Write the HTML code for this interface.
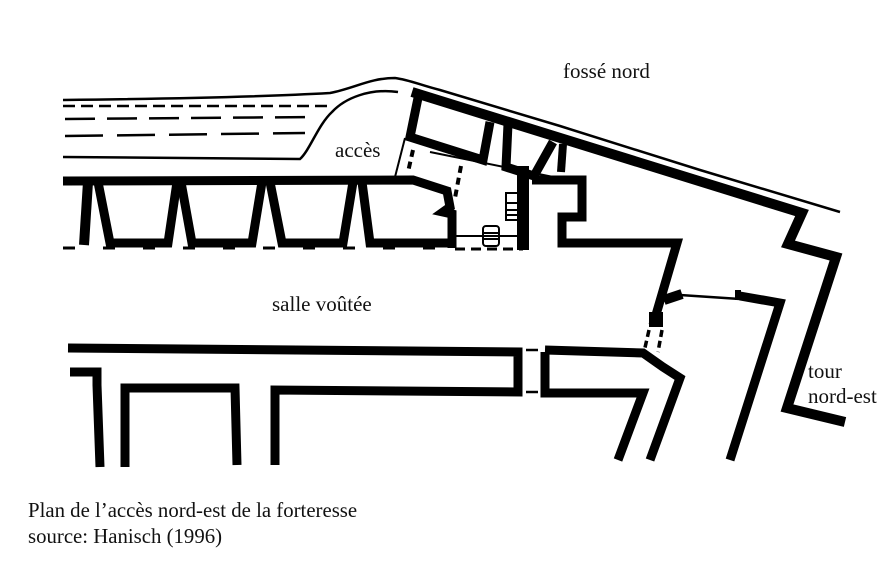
<!DOCTYPE html>
<html><head><meta charset="utf-8"><style>
body{margin:0;background:#fff}
svg{display:block}
text{font-family:"Liberation Serif",serif;fill:#111}
</style></head><body>
<svg width="886" height="580" viewBox="0 0 886 580" xmlns="http://www.w3.org/2000/svg">
<g fill="none" stroke="#000" stroke-linejoin="miter" stroke-linecap="butt">
<path d="M63,100 C150,99 260,97 330,93 C355,88 370,78 395,78 C410,80 420,85 440,90 L560,126 L700,170 L840,212" stroke-width="2.5"/>
<path d="M63,157 L300,159 C310,150 318,125 332,112 C345,98 370,88 398,92" stroke-width="2.5"/>
<path d="M63,106 L330,106" stroke-width="2.5" stroke-dasharray="12,6"/>
<path d="M65,119 L315,117" stroke-width="2.5" stroke-dasharray="30,12"/>
<path d="M65,136 L305,133" stroke-width="2.5" stroke-dasharray="38,14"/>
<path d="M412,92 L802,213 L788,244 L836,257 L787,408 L845,422" stroke-width="10"/>
<path d="M418,98 L410,137 L483,160 L490,122" stroke-width="9"/>
<path d="M508,124 L506,167 L534,176 L553,142" stroke-width="9"/>
<path d="M563,144 L561,172" stroke-width="8"/>
<path d="M405,138 L395,177" stroke-width="2"/>
<path d="M430,152 L573,181" stroke-width="2"/>
<path d="M413,150 L408,172 M461,166 L455,198" stroke-width="4" stroke-dasharray="7,5"/>
<path d="M63,181 L413,180 L447,191 L450,207 L443,212 L452,214 L452,248" stroke-width="9"/>
<path d="M88,182 L84,245" stroke-width="10"/>
<path d="M98,182 L110,243 L168,243 L177,182" stroke-width="9"/>
<path d="M181,182 L192,243 L252,243 L262,182" stroke-width="9"/>
<path d="M270,182 L282,243 L343,243 L353,182" stroke-width="9"/>
<path d="M362,182 L370,243 L450,243" stroke-width="9"/>
<path d="M63,248 L450,248" stroke-width="3" stroke-dasharray="12,28"/>
<path d="M455,236 L523,236" stroke-width="2"/>
<path d="M455,249 L523,249" stroke-width="3" stroke-dasharray="10,6"/>
<path d="M523,166 L523,250" stroke-width="12"/>
<path d="M532,180 L582,180 L582,217 L562,217 L562,243 L677,243 L653,325" stroke-width="9"/>
<rect x="649" y="312" width="14" height="15" fill="#000" stroke="none"/>
<path d="M649,330 L644,352 M662,330 L658,352" stroke-width="3.5" stroke-dasharray="7,4"/>
<rect x="506" y="193" width="16" height="27" stroke-width="2"/>
<path d="M506,203 H522 M506,210 H522 M506,215 H522" stroke-width="2"/>
<rect x="483" y="226" width="16" height="20" rx="3" stroke-width="2"/>
<path d="M483,233 H499 M483,239 H499" stroke-width="2"/>
<path d="M68,348 L518,352 L518,392 L275,390 L275,465" stroke-width="9"/>
<path d="M526,350 L538,350 M526,392 L538,392" stroke-width="2.5"/>
<path d="M545,350 L643,353 L663,367 L680,378 L650,460" stroke-width="9"/>
<path d="M545,352 L545,393 L643,393 L618,460" stroke-width="9"/>
<path d="M70,372 L97,372 L97,385 L100,467" stroke-width="9"/>
<path d="M125,467 L125,388 L235,388 L237,465" stroke-width="9"/>
<path d="M664,300 L682,294" stroke-width="10"/>
<path d="M680,295 L740,299" stroke-width="2.5"/>
<path d="M740,296 L780,303 L730,460" stroke-width="9"/>
<path d="M738,290 L738,300" stroke-width="6"/>
</g>
<text x="563" y="78" font-size="21">fossé nord</text>
<text x="335" y="157" font-size="21">accès</text>
<text x="272" y="311" font-size="21">salle voûtée</text>
<text x="808" y="378" font-size="21">tour</text>
<text x="808" y="403" font-size="21">nord-est</text>
<text x="28" y="517" font-size="20.8">Plan de l’accès nord-est de la forteresse</text>
<text x="28" y="543" font-size="20.8">source: Hanisch (1996)</text>
</svg>
</body></html>
